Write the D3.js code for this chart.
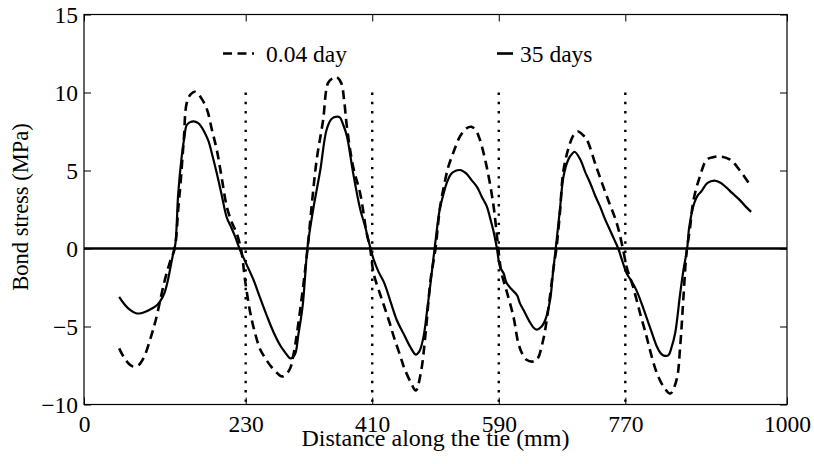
<!DOCTYPE html>
<html>
<head>
<meta charset="utf-8">
<script src="https://cdnjs.cloudflare.com/ajax/libs/d3/7.8.5/d3.min.js"></script>
<style>
  html, body { margin: 0; padding: 0; background: #fff; }
  svg text { font-family: "Times New Roman", "Liberation Serif", "DejaVu Serif", Times, serif; fill: #000; }
</style>
</head>
<body>
<div id="chart"></div>
<script>
// --- DATA ---
const xTicks = [0, 230, 410, 590, 770, 1000];
const yTicks = [-10, -5, 0, 5, 10, 15];
const sectionLines = [230, 410, 590, 770];
const seriesNames = ["0.04 day", "35 days"];

// 0.04 day (dashed)
const earlyX = [50,60,69,77,85,95,102,114,122,129,134,137,142,146,152,158,166,175,182,189,196,203,210,217,224,229,236,242,250,256,265,275,282,292,298,303,311,318,324,331,340,347,353,359,366,370,374,383,393,402,407,412,421,427,435,441,450,455,465,472,479,486,493,500,506,512,518,525,535,544,551,557,563,573,582,587,590,594,601,611,618,624,630,637,644,653,661,668,672,677,682,691,697,703,709,715,729,744,758,767,772,781,791,800,805,815,825,834,843,848,853,857,862,867,876,886,895,905,919,933,947];
const earlyY = [-6.4,-7.2,-7.55,-7.5,-7.0,-5.7,-4.6,-2.2,-0.9,0,2.5,4.0,7.0,9.3,9.9,10.05,9.7,8.9,7.6,6.3,4.5,2.7,1.7,1.0,-0.2,-2.0,-4.0,-5.2,-6.4,-6.9,-7.5,-8.0,-8.2,-7.8,-6.8,-5.4,-2.7,0,2.8,5.7,8.2,10.6,10.9,11.0,10.6,9.5,7.8,5.2,3.5,1.0,0,-1.6,-2.9,-3.7,-4.8,-5.7,-6.9,-7.6,-8.6,-9.1,-8.0,-5.4,-2.0,0,2.5,4.0,5.2,6.1,7.2,7.7,7.8,7.6,7.0,5.2,2.9,1.0,-0.3,-1.6,-2.7,-4.4,-6.1,-6.8,-7.15,-7.25,-7.15,-5.9,-3.7,-1.2,0,2.3,5.0,6.7,7.3,7.5,7.3,7.0,5.2,3.3,1.6,-0.1,-1.2,-2.45,-4.15,-5.6,-6.5,-8.0,-8.9,-9.3,-8.4,-6.3,-2.9,-0.3,1.3,3.1,4.6,5.7,5.85,5.9,5.7,5.0,4.1];

// 35 days (solid)
const lateX = [50,58,66,74,81,90,102,108,114,119,123,127,130,134,139,143,146,151,156,162,167,172,177,183,189,196,203,209,215,222,231,241,250,260,269,279,285,291,294,300,305,311,318,326,336,345,352,360,364,369,374,383,393,400,407,412,419,427,436,445,455,464,472,477,483,488,493,499,506,512,516,521,525,535,544,551,559,566,573,578,582,587,592,597,601,608,616,620,627,634,640,644,651,656,663,667,671,677,682,689,695,698,706,713,720,727,734,741,748,754,760,765,772,779,786,793,800,807,815,820,824,831,836,841,848,853,858,861,868,873,878,887,897,906,914,921,933,941,949];
const lateY = [-3.1,-3.6,-3.95,-4.15,-4.15,-4.0,-3.7,-3.4,-2.9,-2.1,-1.2,-0.3,0.3,3.5,5.9,7.2,7.9,8.1,8.15,8.05,7.8,7.4,6.9,5.9,4.8,3.4,2.0,1.4,0.76,-0.1,-1.0,-2.0,-3.1,-4.3,-5.3,-6.2,-6.6,-6.95,-7.05,-6.8,-5.5,-3.7,0.1,2.5,5.0,7.6,8.3,8.45,8.4,7.9,7.2,4.8,2.5,1.4,0.1,-0.7,-1.5,-2.2,-3.4,-4.6,-5.5,-6.3,-6.8,-6.6,-5.65,-4.0,-2.2,0.1,2.5,3.6,4.2,4.7,4.9,5.03,4.8,4.4,3.95,3.3,2.7,1.9,1.2,0.1,-1.2,-1.6,-2.2,-2.6,-3.0,-3.5,-4.1,-4.7,-5.1,-5.2,-5.0,-4.6,-3.3,-1.6,0,2.5,4.6,5.7,6.1,6.2,5.7,4.9,4.2,3.4,2.7,1.9,1.2,0.6,0,-0.7,-1.6,-2.1,-2.7,-3.5,-4.4,-5.3,-6.3,-6.7,-6.85,-6.85,-6.3,-5.4,-2.9,-1.3,0,1.4,2.9,3.4,3.65,4.2,4.35,4.2,3.9,3.6,3.1,2.7,2.35];

// --- LAYOUT ---
const W = 814, H = 464;
const plot = { left: 84, right: 787, top: 14.5, bottom: 404.5 };
const fontFamily = "'Times New Roman', 'Liberation Serif', 'DejaVu Serif', Times, serif";
const tickFont = 23.5;

const svg = d3.select("#chart").append("svg").attr("width", W).attr("height", H);

const x = d3.scaleLinear().domain([0, 1000]).range([plot.left, plot.right]);
const y = d3.scaleLinear().domain([-10, 15]).range([plot.bottom, plot.top]);

// Axes (inward ticks, mirrored on top/right)
const tick = 7;
const styleAxis = g => {
    g.attr("font-family", null).attr("font-size", null);
    g.select(".domain").remove();
    g.selectAll("line").attr("stroke", "#000").attr("stroke-width", 1);
    g.selectAll("text").style("font-size", tickFont + "px").style("font-family", fontFamily);
};
svg.append("g").attr("transform", `translate(0,${plot.bottom})`)
    .call(d3.axisBottom(x).tickValues(xTicks).tickSizeInner(-tick).tickSizeOuter(0).tickPadding(11).tickFormat(d3.format("d")))
    .call(styleAxis);
svg.append("g").attr("transform", `translate(0,${plot.top})`)
    .call(d3.axisTop(x).tickValues(xTicks).tickSizeInner(-tick).tickSizeOuter(0).tickFormat(""))
    .call(styleAxis);
svg.append("g").attr("transform", `translate(${plot.left},0)`)
    .call(d3.axisLeft(y).tickValues(yTicks).tickSizeInner(-tick).tickSizeOuter(0).tickPadding(6))
    .call(styleAxis);
svg.append("g").attr("transform", `translate(${plot.right},0)`)
    .call(d3.axisRight(y).tickValues(yTicks).tickSizeInner(-tick).tickSizeOuter(0).tickFormat(""))
    .call(styleAxis);

// Frame
svg.append("rect")
    .attr("x", x(0)).attr("y", y(15))
    .attr("width", x(1000) - x(0)).attr("height", y(-10) - y(15))
    .attr("fill", "none").attr("stroke", "#000").attr("stroke-width", 1.2);

// Dotted section lines
svg.selectAll(".section").data(sectionLines).enter().append("line")
    .attr("x1", d => x(d)).attr("x2", d => x(d))
    .attr("y1", y(10)).attr("y2", y(-10))
    .attr("stroke", "#000").attr("stroke-width", 2.4)
    .attr("stroke-dasharray", "2.4,6.9");

// Zero line
svg.append("line")
    .attr("x1", x(0)).attr("x2", x(1000)).attr("y1", y(0)).attr("y2", y(0))
    .attr("stroke", "#000").attr("stroke-width", 2.6);

// Curves
const line = d3.line().x(d => x(d[0])).y(d => y(d[1])).curve(d3.curveCatmullRom.alpha(0.5));
const early = d3.zip(earlyX, earlyY);
const late = d3.zip(lateX, lateY);

svg.append("path").datum(early).attr("d", line)
    .attr("fill", "none").attr("stroke", "#000").attr("stroke-width", 2.6)
    .attr("stroke-dasharray", "9,5.5");
svg.append("path").datum(late).attr("d", line)
    .attr("fill", "none").attr("stroke", "#000").attr("stroke-width", 2.2);

// Legend
const legY = 53.5;
svg.append("line").attr("x1", 223).attr("x2", 254).attr("y1", legY).attr("y2", legY)
    .attr("stroke", "#000").attr("stroke-width", 2.6).attr("stroke-dasharray", "9,5.5");
svg.append("text").attr("x", 266).attr("y", legY + 8).style("font-size", tickFont + "px").text(seriesNames[0]);
svg.append("line").attr("x1", 497).attr("x2", 513).attr("y1", legY).attr("y2", legY)
    .attr("stroke", "#000").attr("stroke-width", 2.6);
svg.append("text").attr("x", 520).attr("y", legY + 8).style("font-size", tickFont + "px").text(seriesNames[1]);

// Axis titles
svg.append("text").attr("x", (plot.left + plot.right) / 2).attr("y", 446)
    .attr("text-anchor", "middle").style("font-size", "24px")
    .text("Distance along the tie (mm)");
svg.append("text").attr("transform", "translate(28,207) rotate(-90)")
    .attr("text-anchor", "middle").style("font-size", "22.5px")
    .text("Bond stress (MPa)");
</script>
</body>
</html>
